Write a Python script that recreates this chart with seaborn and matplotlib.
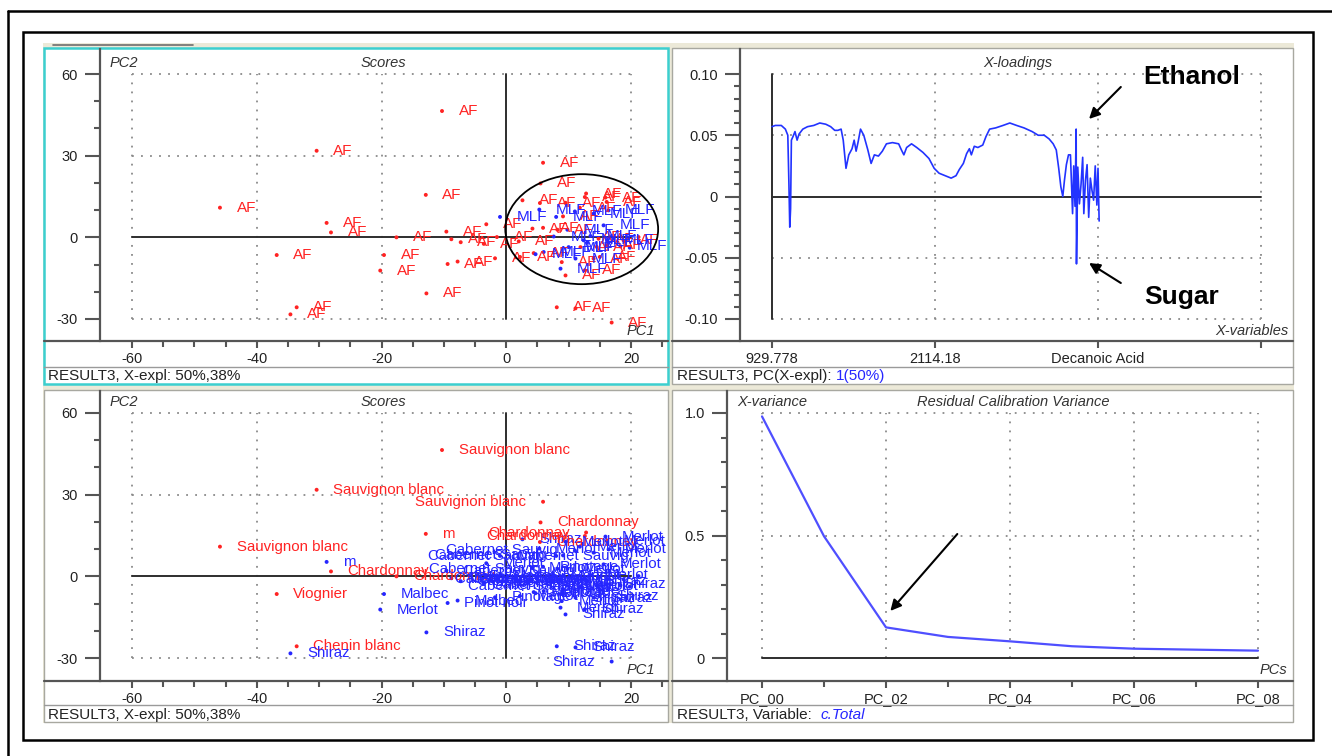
import numpy as np
import pandas as pd
import matplotlib
matplotlib.use("Agg")
import matplotlib.pyplot as plt
import seaborn as sns
from matplotlib.patches import Rectangle, Ellipse
from matplotlib.lines import Line2D
from matplotlib.ticker import FixedLocator

# ------------------------------------------------------------------ data
pc1 = [-10.3, -30.4, 5.9, 5.5, -12.9, -45.9, -28.8, -28.1, -36.8, -19.6,
       -20.2, -17.6, -9.6, -8.8, -7.3, -9.4, -7.8, -3.2, -3.6, -1.8,
       -12.8, -33.6, -34.6, 8.1, 11.1, 16.9, 2.6, 5.4, 9.5, 12.8,
       12.6, 15.9, 16.1, 11.8, 9.1, 4.2, 5.9, 8.2, -1.5, 14.8,
       21.2, 18.8, 16.1, 14.5, 11.9, 4.4, 2.2, 8.9, 14.0, 15.0,
       12.6, 9.5, 2.0, -1.0, 5.3, 8.0, 9.8, 10.0, 6.0, 4.7,
       12.4, 13.0, 16.2, 18.3, 19.8, 8.7, 11.1, 15.6, 14.0, 16.4,
       11.0, 13.5, 7.6]
pc2 = [46.4, 31.8, 27.4, 19.8, 15.6, 10.9, 5.3, 1.8, -6.5, -6.5,
       -12.2, 0.0, 2.1, -0.7, -1.8, -9.8, -8.9, 4.8, -2.4, -7.7,
       -20.6, -25.7, -28.3, -25.7, -26.1, -31.3, 13.6, 12.6, 12.7, 16.1,
       14.8, 14.6, 13.0, 10.9, 7.7, 3.2, 3.5, 2.8, 0.1, -0.5,
       0.1, -1.1, -2.9, -3.5, -3.6, -5.8, -7.2, -9.1, -7.8, -7.2,
       -12.1, -14.0, -1.5, 7.5, 10.2, 7.5, 2.8, -3.6, -5.4, -6.2,
       -1.1, -1.8, -1.0, -3.3, -3.8, -11.5, -7.8, 4.4, 8.7, 9.9,
       9.5, 0.5, 0.3]
stage = ["AF", "AF", "AF", "AF", "AF", "AF", "AF", "AF", "AF", "AF",
         "AF", "AF", "AF", "AF", "AF", "AF", "AF", "AF", "AF", "AF",
         "AF", "AF", "AF", "AF", "AF", "AF", "AF", "AF", "AF", "AF",
         "AF", "AF", "AF", "AF", "AF", "AF", "AF", "AF", "AF", "AF",
         "AF", "AF", "AF", "AF", "AF", "AF", "AF", "AF", "AF", "AF",
         "AF", "AF", "AF", "MLF", "MLF", "MLF", "MLF", "MLF", "MLF", "MLF",
         "MLF", "MLF", "MLF", "MLF", "MLF", "MLF", "MLF", "MLF", "MLF", "MLF",
         "MLF", "MLF", "MLF"]
cultivar = ["Sauvignon blanc", "Sauvignon blanc", "Sauvignon blanc", "Chardonnay", "m",
            "Sauvignon blanc", "m", "Chardonnay", "Viognier", "Malbec",
            "Merlot", "Chardonnay", "Cabernet Sauvig", "Merlot", "Cabernet Sauvig",
            "Pinot noir", "Malbec", "Merlot", "Cabernet Sauvig", "Pinotage",
            "Shiraz", "Chenin blanc", "Shiraz", "Shiraz", "Shiraz",
            "Shiraz", "Shiraz", "Chardonnay", "Merlot", "Chardonnay",
            "Chardonnay", "Merlot", "Merlot", "Merlot", "Cabernet Sauvig",
            "Merlot", "Pinotage", "Cabernet Sauvig", "Merlot", "Cabernet Sauvig",
            "Merlot", "Cabernet Sauvig", "Shiraz", "Cabernet Sauvig", "Merlot",
            "Pinotage", "Merlot", "Merlot", "Shiraz", "Shiraz",
            "Shiraz", "Shiraz", "Merlot", "Cabernet Sauvig", "Merlot",
            "Cabernet Sauvig", "Merlot", "Merlot", "Pinotage", "Merlot",
            "Cabernet Sauvig", "Shiraz", "Cabernet Sauvig", "Cabernet Sauvig", "Shiraz",
            "Merlot", "Shiraz", "Merlot", "Merlot", "Merlot",
            "Cabernet Sauvig", "Merlot", "Merlot"]
wine_colour = ["white", "white", "white", "white", "white", "white", "red", "white", "white", "red",
               "red", "white", "red", "red", "red", "red", "red", "red", "red", "red",
               "red", "white", "red", "red", "red", "red", "red", "white", "red", "white",
               "white", "red", "red", "red", "red", "red", "red", "red", "red", "red",
               "red", "red", "red", "red", "red", "red", "red", "red", "red", "red",
               "red", "red", "red", "red", "red", "red", "red", "red", "red", "red",
               "red", "red", "red", "red", "red", "red", "red", "red", "red", "red",
               "red", "red", "red"]

loading_index = [0, 2, 5.7, 8.2, 9.7, 10.4, 10.9, 11.4, 11.9, 12.9, 14.1, 15.4, 16.6, 18.9, 21.8,
                 25.6, 29.3, 33, 36, 38.5, 40.4, 42.4, 43.7, 45.4, 47.1, 49.1, 50.4, 51.6, 52.9,
                 54.3, 56.3, 58.8, 60.8, 62.8, 65.3, 67.7, 70.2, 73.9, 77.7, 79.4, 80.9, 82.6,
                 85.6, 88.8, 92.6, 96.3, 99.5, 102.5, 106.2, 109.9, 112.9, 114.9, 117.4, 119.4,
                 121.1, 122.3, 124.1, 126.3, 129.3, 131.3, 133.5, 137.2, 141.7, 145.9, 150.1,
                 154.6, 159.6, 163.3, 167, 170, 172.5, 174.4, 175.9, 177.2, 178.4, 179.4, 180.6,
                 181.9, 183.1, 184.4, 185.1, 185.9, 186.6, 186.8, 187.6, 188.6, 189.6, 190.6,
                 191.3, 192.3, 193.3, 194.3, 195.3, 196.3, 197.3, 198.3, 199.3, 200, 200.7]
loading_value = [0.057, 0.058, 0.058, 0.055, 0.050, 0.009, -0.025, -0.010, 0.046, 0.049, 0.053,
                 0.046, 0.051, 0.055, 0.057, 0.058, 0.060, 0.059, 0.057, 0.054, 0.054, 0.055,
                 0.046, 0.023, 0.034, 0.039, 0.046, 0.037, 0.045, 0.055, 0.050, 0.038, 0.027,
                 0.034, 0.033, 0.037, 0.043, 0.044, 0.043, 0.038, 0.034, 0.040, 0.043, 0.040,
                 0.036, 0.031, 0.023, 0.019, 0.017, 0.015, 0.017, 0.022, 0.027, 0.035, 0.039,
                 0.034, 0.041, 0.040, 0.042, 0.049, 0.055, 0.056, 0.058, 0.060, 0.058, 0.056,
                 0.053, 0.050, 0.050, 0.047, 0.043, 0.038, 0.023, 0.008, 0.000, 0.013, 0.026,
                 0.034, 0.034, -0.014, 0.025, -0.008, 0.055, -0.055, 0.024, -0.006, 0.010,
                 0.032, -0.014, 0.013, 0.026, -0.017, 0.015, 0.005, -0.003, 0.025, -0.007,
                 0.023, -0.020]
loading_tick_index = [0, 100, 200, 300]
loading_tick_labels = ["929.778", "2114.18", "Decanoic Acid", ""]

pc_number = [0, 1, 2, 3, 4, 5, 6, 7, 8]
residual_variance = [0.986, 0.497, 0.125, 0.086, 0.068, 0.048, 0.038, 0.034, 0.030]
pc_tick_pos = [0, 2, 4, 6, 8]
pc_tick_labels = ["PC_00", "PC_02", "PC_04", "PC_06", "PC_08"]

score_y_ticks = [-30, 0, 30, 60]
score_x_ticks = [-60, -40, -20, 0, 20]

assert len(loading_index) == len(loading_value)
assert len(pc1) == len(pc2) == len(stage) == len(cultivar) == len(wine_colour)

# ------------------------------------------------------------------ style
sns.set_theme(style="white")
plt.rcParams["font.family"] = ["Liberation Sans", "DejaVu Sans"]
plt.rcParams["axes.unicode_minus"] = False

RED = "#FF2323"
BLUE = "#2626FF"
GRID = "#8a8a8a"
AXC = "#555555"
TXT = "#222222"

W, H = 1332, 756
fig = plt.figure(figsize=(W / 100, H / 100), dpi=100)
fig.patch.set_facecolor("white")


def fx(px):
    return px / W


def fy(py):
    return 1 - py / H


def frect(x0, y0, x1, y1, **kw):
    r = Rectangle((fx(x0), fy(y1)), fx(x1) - fx(x0), fy(y0) - fy(y1),
                  transform=fig.transFigure, **kw)
    fig.add_artist(r)


def fline(xs, ys, **kw):
    fig.add_artist(Line2D([fx(x) for x in xs], [fy(y) for y in ys],
                          transform=fig.transFigure, **kw))


def ftext(px, py, s, **kw):
    kw.setdefault("color", TXT)
    kw.setdefault("fontsize", 11)
    kw.setdefault("va", "center")
    return fig.text(fx(px), fy(py), s, **kw)


def lims(p0, p1, va, pa, vb, pb):
    scale = (pb - pa) / (vb - va)
    return va + (p0 - pa) / scale, va + (p1 - pa) / scale


def make_ax(x0, y0, x1, y1, xanch, yanch):
    ax = fig.add_axes([fx(x0), fy(y1), fx(x1) - fx(x0), fy(y0) - fy(y1)])
    ax.set_facecolor("none")
    for s in ["top", "right", "bottom"]:
        ax.spines[s].set_visible(False)
    ax.spines["left"].set_color(AXC)
    ax.spines["left"].set_linewidth(1.6)
    ax.set_xlim(*lims(x0, x1, *xanch))
    ax.set_ylim(*lims(y1, y0, *yanch))
    ax.tick_params(axis="y", which="major", length=11, width=1.5, color=AXC,
                   pad=5, labelsize=10.5, labelcolor=TXT, left=True)
    ax.tick_params(axis="y", which="minor", length=4.5, width=1.5, color=AXC, left=True)
    ax.tick_params(axis="x", which="major", length=5, width=1.5, color=AXC,
                   pad=3, labelsize=10.5, labelcolor=TXT, bottom=True)
    ax.tick_params(axis="x", which="minor", length=4, width=1.5, color=AXC, bottom=True)
    ax.grid(False)
    return ax


def dotted(ax, xs, ys):
    ax.plot(xs, ys, color=GRID, lw=1.3, ls=(0, (1, 4)), zorder=1)


def solid(ax, xs, ys):
    ax.plot(xs, ys, color="#2e2e2e", lw=1.4, zorder=1)


# ------------------------------------------------------------------ frame decorations
fline([8, 8], [11, 756], color="black", lw=1.8)
fline([8, 1332], [11, 11], color="black", lw=1.8)
frect(23, 32, 1313, 740, fill=False, ec="black", lw=1.8)
frect(43, 43, 1294, 723, fc="#ECE9D8", ec="none", zorder=-10)
fline([53, 193], [44.5, 44.5], color="#6e6e6e", lw=1.2, zorder=-9)
frect(44, 48, 668, 384, fc="white", ec="#3CCFCF", lw=1.8, zorder=-5)
frect(672, 48, 1293, 384, fc="white", ec="#a8a8a0", lw=1.0, zorder=-5)
frect(44, 390, 668, 722, fc="white", ec="#a8a8a0", lw=1.0, zorder=-5)
frect(672, 390, 1293, 722, fc="white", ec="#a8a8a0", lw=1.0, zorder=-5)

# bottom axis lines (span full panel width) and separators
for (a, b, yy) in [(44, 668, 341), (672, 1293, 341), (44, 668, 681), (672, 1293, 681)]:
    fline([a, b], [yy, yy], color=AXC, lw=1.6, zorder=4)
for (a, b, yy) in [(44, 668, 367), (672, 1293, 367), (44, 668, 705), (672, 1293, 705)]:
    fline([a, b], [yy, yy], color="#9a9a9a", lw=1.0, zorder=4)

# ------------------------------------------------------------------ scores panels
df = pd.DataFrame({"PC1": pc1, "PC2": pc2, "stage": stage,
                   "cultivar": cultivar, "colour": wine_colour})

ax_tl = make_ax(100, 49, 666, 341, (-60, 132, 20, 631), (60, 74, -30, 319))
ax_bl = make_ax(100, 391, 666, 681, (-60, 132, 20, 631), (60, 413, -30, 658))

for ax in (ax_tl, ax_bl):
    for v in [-60, -40, -20, 20]:
        dotted(ax, [v, v], [-30, 60])
    for h in [60, 30, -30]:
        dotted(ax, [-60, 20], [h, h])
    solid(ax, [-60, 20], [0, 0])
    solid(ax, [0, 0], [-30, 60])
    ax.set_xticks(score_x_ticks, labels=[str(t) for t in score_x_ticks])
    ax.set_yticks(score_y_ticks, labels=[str(t) for t in score_y_ticks])
    ax.xaxis.set_minor_locator(FixedLocator([-55, -50, -45, -35, -30, -25, -15, -10, -5,
                                             5, 10, 15, 25]))
    ax.yaxis.set_minor_locator(FixedLocator([-20, -10, 10, 20, 40, 50]))

sns.scatterplot(data=df, x="PC1", y="PC2", hue="stage", palette={"AF": RED, "MLF": BLUE},
                s=8, linewidth=0, legend=False, ax=ax_tl, zorder=3)
sns.scatterplot(data=df, x="PC1", y="PC2", hue="colour", palette={"white": RED, "red": BLUE},
                s=8, linewidth=0, legend=False, ax=ax_bl, zorder=3)
for ax in (ax_tl, ax_bl):
    ax.set_xlabel("")
    ax.set_ylabel("")

GAP = 12
anns = {ax_tl: [], ax_bl: []}
for _, r in df.iterrows():
    c_top = RED if r["stage"] == "AF" else BLUE
    c_bot = RED if r["colour"] == "white" else BLUE
    a = ax_tl.annotate(r["stage"], (r["PC1"], r["PC2"]), xytext=(GAP, 0),
                       textcoords="offset points", va="center", ha="left",
                       color=c_top, fontsize=11, zorder=4)
    a.set_clip_on(True)
    anns[ax_tl].append(a)
    b = ax_bl.annotate(r["cultivar"], (r["PC1"], r["PC2"]), xytext=(GAP, 0),
                       textcoords="offset points", va="center", ha="left",
                       color=c_bot, fontsize=10.8, zorder=4)
    b.set_clip_on(True)
    anns[ax_bl].append(b)

ax_tl.add_patch(Ellipse((12.1, 3.0), 24.5, 40.4, fill=False, ec="black", lw=1.3, zorder=5))

# ------------------------------------------------------------------ loadings panel
ax_tr = make_ax(740, 49, 1291, 341, (0, 772, 300, 1261), (0.1, 74, -0.1, 319))
for v in [100, 200, 300]:
    dotted(ax_tr, [v, v], [-0.1, 0.1])
for h in [0.1, 0.05, -0.05, -0.1]:
    dotted(ax_tr, [0, 300], [h, h])
solid(ax_tr, [0, 300], [0, 0])
solid(ax_tr, [0, 0], [-0.1, 0.1])
sns.lineplot(x=loading_index, y=loading_value, ax=ax_tr, color="#2233FF", lw=1.2,
             estimator=None, sort=False, zorder=3)
ax_tr.set_xticks(loading_tick_index, labels=loading_tick_labels)
ax_tr.set_yticks([-0.1, -0.05, 0, 0.05, 0.1], labels=["-0.10", "-0.05", "0", "0.05", "0.10"])
ax_tr.yaxis.set_minor_locator(FixedLocator([-0.09, -0.08, -0.07, -0.06, -0.04, -0.03, -0.02, -0.01,
                                            0.01, 0.02, 0.03, 0.04, 0.06, 0.07, 0.08, 0.09]))
ax_tr.text(257.7, 0.0976, "Ethanol", ha="center", va="center", fontsize=19,
           fontweight="bold", color="black", zorder=6)
ax_tr.text(251, -0.082, "Sugar", ha="center", va="center", fontsize=19,
           fontweight="bold", color="black", zorder=6)
arrow_kw = dict(arrowstyle="-|>", color="black", lw=1.5, mutation_scale=16,
                shrinkA=0, shrinkB=0)
ax_tr.annotate("", xy=(194.5, 0.0633), xytext=(214, 0.0894), arrowprops=arrow_kw)
ax_tr.annotate("", xy=(194.5, -0.0543), xytext=(214, -0.0706), arrowprops=arrow_kw)

# ------------------------------------------------------------------ residual variance panel
ax_br = make_ax(727, 391, 1291, 681, (0, 762, 8, 1258), (1.0, 413, 0, 658))
for v in [0, 2, 4, 6, 8]:
    dotted(ax_br, [v, v], [0, 1.0])
for h in [1.0, 0.5]:
    dotted(ax_br, [0, 8], [h, h])
solid(ax_br, [0, 8], [0, 0])
sns.lineplot(x=pc_number, y=residual_variance, ax=ax_br, color="#4F4FFF", lw=1.6,
             estimator=None, zorder=3)
ax_br.set_xticks(pc_tick_pos, labels=pc_tick_labels)
ax_br.xaxis.set_minor_locator(FixedLocator([1, 3, 5, 7]))
ax_br.set_yticks([0, 0.5, 1.0], labels=["0", "0.5", "1.0"])
ax_br.yaxis.set_minor_locator(FixedLocator([0.1, 0.2, 0.3, 0.4, 0.6, 0.7, 0.8, 0.9]))
ax_br.annotate("", xy=(2.07, 0.192), xytext=(3.15, 0.506), arrowprops=arrow_kw)

for ax in (ax_tr, ax_br):
    ax.set_xlabel("")
    ax.set_ylabel("")

# ------------------------------------------------------------------ panel texts
IT = dict(style="italic", color="#333333", fontsize=10.5)
ftext(110, 63, "PC2", ha="left", **IT)
ftext(383, 63, "Scores", ha="center", **IT)
ftext(655, 331, "PC1", ha="right", **IT)
ftext(1018, 63, "X-loadings", ha="center", **IT)
ftext(1289, 331, "X-variables", ha="right", **IT)
ftext(110, 402, "PC2", ha="left", **IT)
ftext(383, 402, "Scores", ha="center", **IT)
ftext(655, 670, "PC1", ha="right", **IT)
ftext(737, 402, "X-variance", ha="left", **IT)
ftext(1013, 402, "Residual Calibration Variance", ha="center", **IT)
ftext(1287, 670, "PCs", ha="right", **IT)

ftext(48, 376, "RESULT3, X-expl: 50%,38%", ha="left")
t_pc = ftext(677, 376, "RESULT3, PC(X-expl):", ha="left")
b_pc = ftext(832, 376, "1(50%)", ha="left", color=BLUE)
ftext(48, 715, "RESULT3, X-expl: 50%,38%", ha="left")
t_var = ftext(677, 715, "RESULT3, Variable:", ha="left")
b_var = ftext(820, 715, "c.Total", ha="left", color=BLUE, style="italic")

# ------------------------------------------------------------------ final text adjustments
fig.canvas.draw()
rend = fig.canvas.get_renderer()
for ax, lst in anns.items():
    right = ax.get_window_extent(rend).x1
    for a in lst:
        bb = a.get_window_extent(rend)
        if bb.x1 > right + 4:
            a.set_horizontalalignment("right")
            a.xyann = (-GAP, 0)

for black, blue, gap in [(t_pc, b_pc, 4), (t_var, b_var, 9)]:
    x1 = black.get_window_extent(rend).x1
    blue.set_x((x1 + gap) / W)

fig.savefig("out.png", dpi=100, facecolor="white")
